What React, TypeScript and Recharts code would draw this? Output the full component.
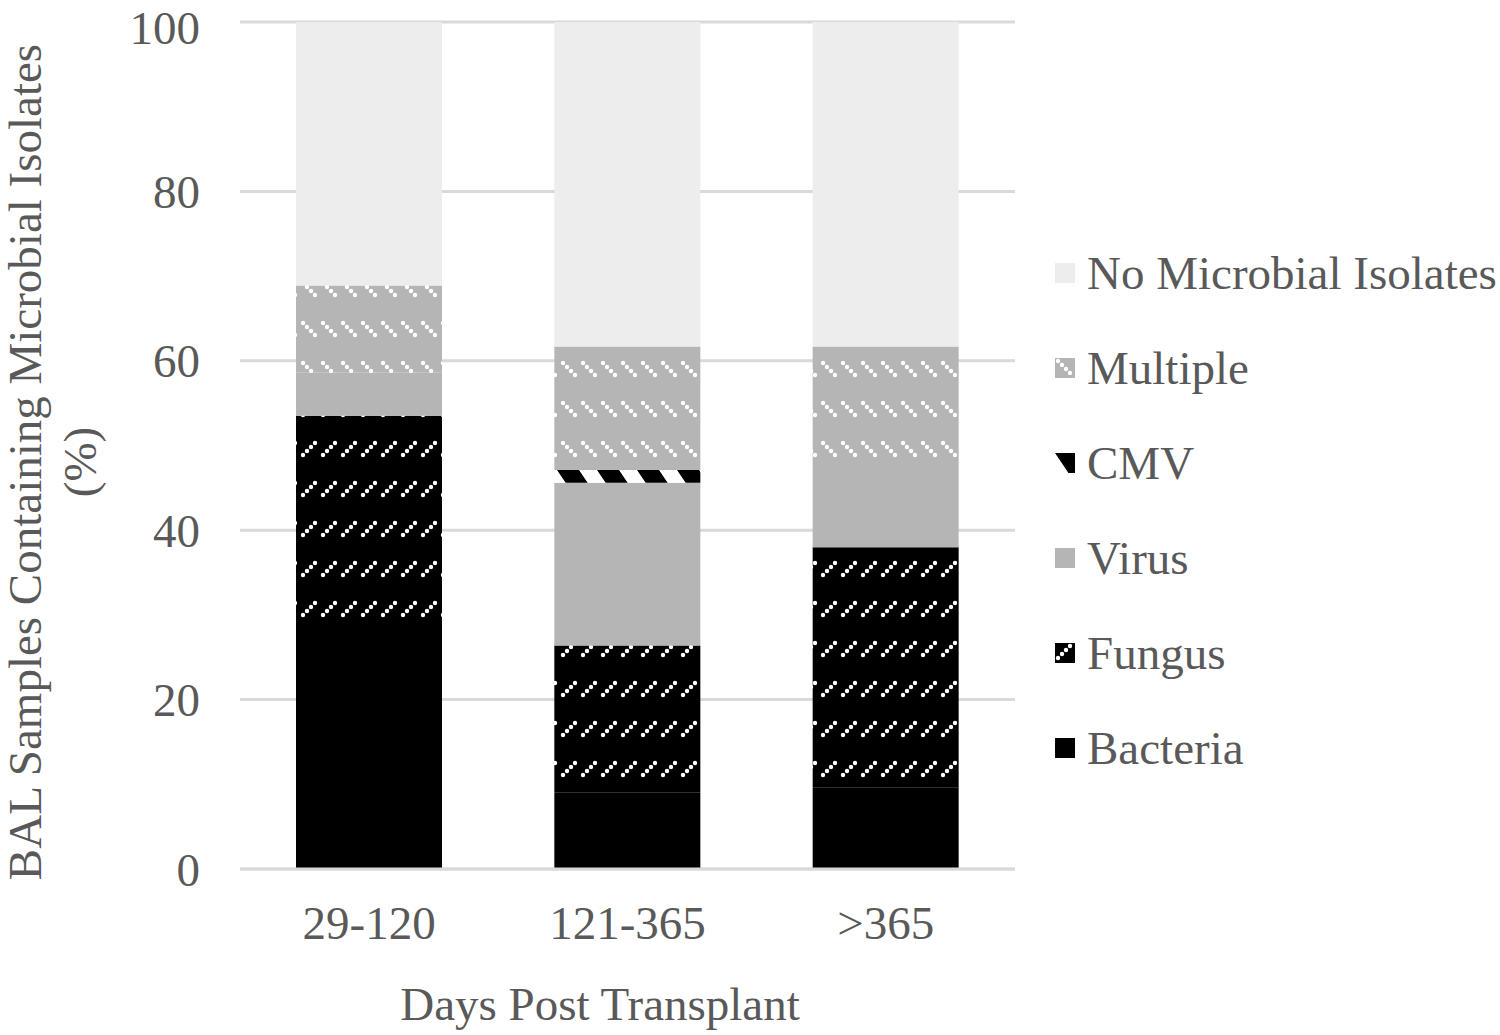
import { BarChart, Bar, XAxis, YAxis, CartesianGrid } from 'recharts';

const categories = ['29-120', '121-365', '>365'];
const bacteria = [29.4, 9.0, 9.6];
const fungus = [24.1, 17.4, 28.4];
const virus = [5.1, 19.2, 9.7];
const cmv = [0, 1.5, 0];
const multiple = [10.3, 14.6, 14.0];
const noIsolates = [31.1, 38.3, 38.3];
const yTicks = [0, 20, 40, 60, 80, 100];

const FONT = '"Liberation Serif", "Times New Roman", serif';
const TEXT = '#595959';
const FS = 47;

// stacking order, bottom to top
const series = [
  { key: 'bacteria', name: 'Bacteria', fill: '#000000' },
  { key: 'fungus', name: 'Fungus', fill: 'url(#fungusPat)' },
  { key: 'virus', name: 'Virus', fill: '#b5b5b5' },
  { key: 'cmv', name: 'CMV', fill: 'url(#cmvPat)' },
  { key: 'multiple', name: 'Multiple', fill: 'url(#multiPat)' },
  { key: 'none', name: 'No Microbial Isolates', fill: '#ededed' },
];

const data = categories.map((c, i) => ({
  name: c,
  bacteria: bacteria[i],
  fungus: fungus[i],
  virus: virus[i],
  cmv: cmv[i],
  multiple: multiple[i],
  none: noIsolates[i],
}));

const dotsUp = [[3, 15], [7, 11], [11, 7], [15, 3]];
const dotsDown = [[3, 3], [7, 7], [11, 11], [15, 15]];

const YTitle = () => (
  <g fontFamily={FONT} fontSize={FS} fill={TEXT}>
    <text x={25} y={462} transform="rotate(-90 25 462)" textAnchor="middle" dominantBaseline="central">
      BAL Samples Containing Microbial Isolates
    </text>
    <text x={80} y={462} transform="rotate(-90 80 462)" textAnchor="middle" dominantBaseline="central">
      (%)
    </text>
  </g>
);

const XTitle = () => (
  <text x={600} y={1020} textAnchor="middle" fontFamily={FONT} fontSize={FS} fill={TEXT}>
    Days Post Transplant
  </text>
);

export default function App() {
  const legendItems = [...series].reverse();
  return (
    <div style={{ position: 'absolute', left: 0, top: 0, width: 1500, height: 1035, background: '#fff' }}>
      <BarChart
        width={1500}
        height={1035}
        data={data}
        margin={{ top: 22, right: 485, bottom: 0, left: 0 }}
      >
        <defs>
          <pattern id="fungusPat" patternUnits="userSpaceOnUse" width={20} height={40}>
            <rect width={20} height={40} fill="#000" />
            {dotsUp.map(([x, y], i) => (
              <circle key={i} cx={x} cy={y} r={2.2} fill="#fff" />
            ))}
          </pattern>
          <pattern id="multiPat" patternUnits="userSpaceOnUse" width={20} height={40}>
            <rect width={20} height={40} fill="#b5b5b5" />
            {dotsDown.map(([x, y], i) => (
              <circle key={i} cx={x} cy={y} r={2.2} fill="#fff" />
            ))}
          </pattern>
          <pattern id="cmvPat" patternUnits="userSpaceOnUse" width={40} height={40} patternTransform="skewX(34)">
            <rect width={40} height={40} fill="#fff" />
            <rect width={22} height={40} fill="#000" />
          </pattern>
        </defs>
        <CartesianGrid vertical={false} stroke="#d9d9d9" strokeWidth={3} />
        <XAxis
          dataKey="name"
          height={166}
          axisLine={{ stroke: '#d9d9d9', strokeWidth: 3 }}
          tickLine={false}
          tickSize={0}
          tickMargin={37}
          tick={{ fontFamily: FONT, fontSize: FS, fill: TEXT }}
          label={<XTitle />}
        />
        <YAxis
          width={240}
          domain={[0, 100]}
          ticks={yTicks}
          axisLine={false}
          tickLine={false}
          tickSize={0}
          tickMargin={40}
          tick={{ fontFamily: FONT, fontSize: FS, fill: TEXT }}
          label={<YTitle />}
        />
        {series.map((s) => (
          <Bar
            key={s.key}
            dataKey={s.key}
            name={s.name}
            stackId="a"
            fill={s.fill}
            barSize={146}
            isAnimationActive={false}
          />
        ))}
      </BarChart>
      <div style={{ position: 'absolute', left: 1055, top: 225 }}>
        {legendItems.map((s) => (
          <div key={s.key} style={{ display: 'flex', alignItems: 'center', height: 95 }}>
            <svg width={20} height={20} style={{ marginRight: 12 }}>
              <rect width={20} height={20} fill={s.fill} />
            </svg>
            <span style={{ fontFamily: FONT, fontSize: FS, color: TEXT, whiteSpace: 'nowrap', lineHeight: '56px' }}>
              {s.name}
            </span>
          </div>
        ))}
      </div>
    </div>
  );
}
